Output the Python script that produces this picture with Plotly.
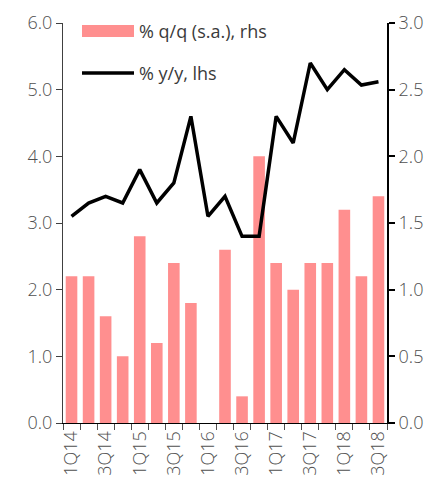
import plotly.graph_objects as go

quarters = ["1Q14", "2Q14", "3Q14", "4Q14", "1Q15", "2Q15", "3Q15", "4Q15",
            "1Q16", "2Q16", "3Q16", "4Q16", "1Q17", "2Q17", "3Q17", "4Q17",
            "1Q18", "2Q18", "3Q18"]
qq_sa = [1.1, 1.1, 0.8, 0.5, 1.4, 0.6, 1.2, 0.9, -0.01, 1.3, 0.2, 2.0,
         1.2, 1.0, 1.2, 1.2, 1.6, 1.1, 1.7]
yy = [3.1, 3.3, 3.4, 3.3, 3.8, 3.3, 3.6, 4.6, 3.1, 3.4, 2.8, 2.8,
      4.6, 4.2, 5.4, 5.0, 5.3, 5.07, 5.12]
tick_labels = [q if i % 2 == 0 else "" for i, q in enumerate(quarters)]

BAR = "#FF8F8F"
GREY = "#505050"
LEG = "#3a3a3a"
FONT = "Open Sans"
FS = 18

fig = go.Figure()
fig.add_trace(go.Bar(x=quarters, y=qq_sa, name="% q/q (s.a.), rhs",
                     marker=dict(color=BAR, line=dict(width=0)),
                     yaxis="y", showlegend=False))
fig.add_trace(go.Scatter(x=quarters, y=yy, name="% y/y, lhs", mode="lines",
                         line=dict(color="black", width=3.5),
                         yaxis="y2", showlegend=False))

# manual legend
fig.add_shape(type="rect", xref="paper", yref="paper",
              x0=(82 - 63) / 324, x1=(134 - 63) / 324,
              y0=(423 - 37) / 400, y1=(423 - 25) / 400,
              fillcolor=BAR, line=dict(width=0))
fig.add_shape(type="line", xref="paper", yref="paper",
              x0=(82 - 63) / 324, x1=(134 - 63) / 324,
              y0=(423 - 73) / 400, y1=(423 - 73) / 400,
              line=dict(color="black", width=3.5))
fig.add_annotation(xref="paper", yref="paper", x=(137 - 63) / 324,
                   y=(423 - 31) / 400, text="% q/q (s.a.), rhs", showarrow=False,
                   xanchor="left", yanchor="middle",
                   font=dict(family=FONT, size=FS, color=LEG, weight=400))
fig.add_annotation(xref="paper", yref="paper", x=(137 - 63) / 324,
                   y=(423 - 73) / 400, text="% y/y, lhs", showarrow=False,
                   xanchor="left", yanchor="middle",
                   font=dict(family=FONT, size=FS, color=LEG, weight=400))

tf = dict(family=FONT, size=FS, color=GREY, weight=300)
fig.update_layout(
    width=426, height=473,
    margin=dict(l=55, r=47, t=15, b=58),
    paper_bgcolor="white", plot_bgcolor="white",
    font=dict(family=FONT, size=FS, color=GREY),
    bargap=0.32,
    xaxis=dict(type="category", tickmode="array", tickvals=quarters,
               ticktext=tick_labels, tickangle=-90, tickson="boundaries",
               ticks="outside", ticklen=6, tickcolor=GREY,
               showline=True, linecolor="black", linewidth=1,
               showgrid=False, zeroline=False, automargin=False,
               tickfont=tf),
    yaxis=dict(side="right", range=[0, 3], dtick=0.5, tickformat=".1f",
               showline=True, linecolor="black", linewidth=2,
               ticks="outside", ticklen=6, tickcolor="black", tickwidth=2,
               showgrid=False, zeroline=False, automargin=False,
               tickfont=tf),
    yaxis2=dict(side="left", overlaying="y", range=[0, 6], dtick=1,
                tickformat=".1f", showline=True, linecolor="#404040",
                linewidth=1, ticks="outside", ticklen=6, tickcolor="#404040",
                showgrid=False, zeroline=False, automargin=False,
                tickfont=tf),
)

fig.write_html("out.html")
